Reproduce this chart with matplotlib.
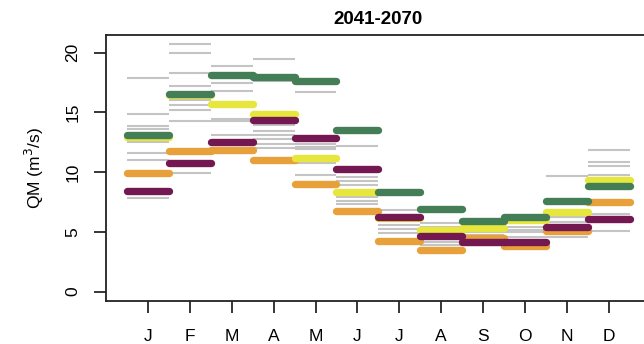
import numpy as np
import matplotlib
matplotlib.use("Agg")
import matplotlib.pyplot as plt

months = ["J", "F", "M", "A", "M", "J", "J", "A", "S", "O", "N", "D"]

# Grey lines: individual model projections per month
grey_values = [
    [17.9, 14.85, 13.85, 13.6, 12.5, 11.6, 11.0, 7.8],
    [20.7, 19.95, 18.3, 17.2, 16.05, 15.6, 15.2, 14.3, 9.9],
    [18.9, 17.44, 16.82, 14.45, 14.3, 13.11],
    [19.47, 17.6, 15.06, 13.95, 13.47, 13.11, 12.75, 12.4, 12.0],
    [16.74, 12.4, 12.1, 11.9, 10.8, 9.8],
    [12.19, 9.57, 9.29, 8.93, 7.9, 7.62, 7.34],
    [6.84, 5.58, 5.22, 4.89],
    [5.77, 5.44, 5.1, 4.18, 3.9],
    [5.02, 4.74, 4.47, 3.91],
    [5.44, 5.2, 5.02, 4.6],
    [9.68, 6.28, 5.86, 4.6],
    [11.86, 10.88, 10.52, 9.77, 6.5, 5.08],
]

orange = [9.96, 11.8, 11.85, 10.98, 9.0, 6.75, 4.27, 3.52, 4.5, 3.85, 5.05, 7.48]
yellow = [12.97, 16.5, 15.7, 14.85, 11.2, 8.32, 6.2, 5.13, 5.37, 5.97, 6.7, 9.35]
purple = [8.43, 10.75, 12.5, 14.37, 12.85, 10.25, 6.28, 4.62, 4.18, 4.13, 5.44, 6.08]
green = [13.1, 16.55, 18.1, 18.0, 17.66, 13.5, 8.32, 6.95, 5.9, 6.28, 7.55, 8.85]

series = [
    (orange, "#E8A13A"),
    (yellow, "#E6E63C"),
    (purple, "#731850"),
    (green, "#437E57"),
]

yticks = [0, 5, 10, 15, 20]
title = "2041-2070"
ylabel = "QM (m$^3$/s)"

plt.rcParams["font.family"] = ["Liberation Sans", "DejaVu Sans"]

W, H = 644, 344
fig = plt.figure(figsize=(W / 100, H / 100), dpi=100)
ax = fig.add_axes([106 / W, 43 / H, 544.7 / W, 266 / H])

pos = np.arange(1, 13)

for i, vals in zip(pos, grey_values):
    for v in vals:
        ax.plot([i - 0.5, i + 0.5], [v, v], color="#C4C4C4", lw=1.5,
                solid_capstyle="butt", zorder=1)

for vals, col in series:
    xs, ys = [], []
    for i, v in zip(pos, vals):
        xs += [i - 0.5, i + 0.5, np.nan]
        ys += [v, v, np.nan]
    ax.plot(xs, ys, color=col, lw=5.3, solid_capstyle="round", zorder=2)

ax.set_xlim(0.0, 13.0)
ax.set_ylim(-0.78, 21.48)
ax.set_xticks(pos)
ax.set_xticklabels(months, fontsize=12.5)
ax.set_yticks(yticks)
ax.set_yticklabels([str(t) for t in yticks], rotation=90, va="center", fontsize=12.5)
ax.tick_params(axis="both", length=8.5, width=1.1, color="black")
ax.tick_params(axis="x", pad=12)
ax.tick_params(axis="y", pad=10)
for s in ax.spines.values():
    s.set_linewidth(1.3)
    s.set_color("#222222")

ax.set_title(title, fontsize=13.5, fontweight="bold", pad=8)
ax.set_ylabel(ylabel, fontsize=12.5, labelpad=14)

fig.savefig("out.png", dpi=100)
